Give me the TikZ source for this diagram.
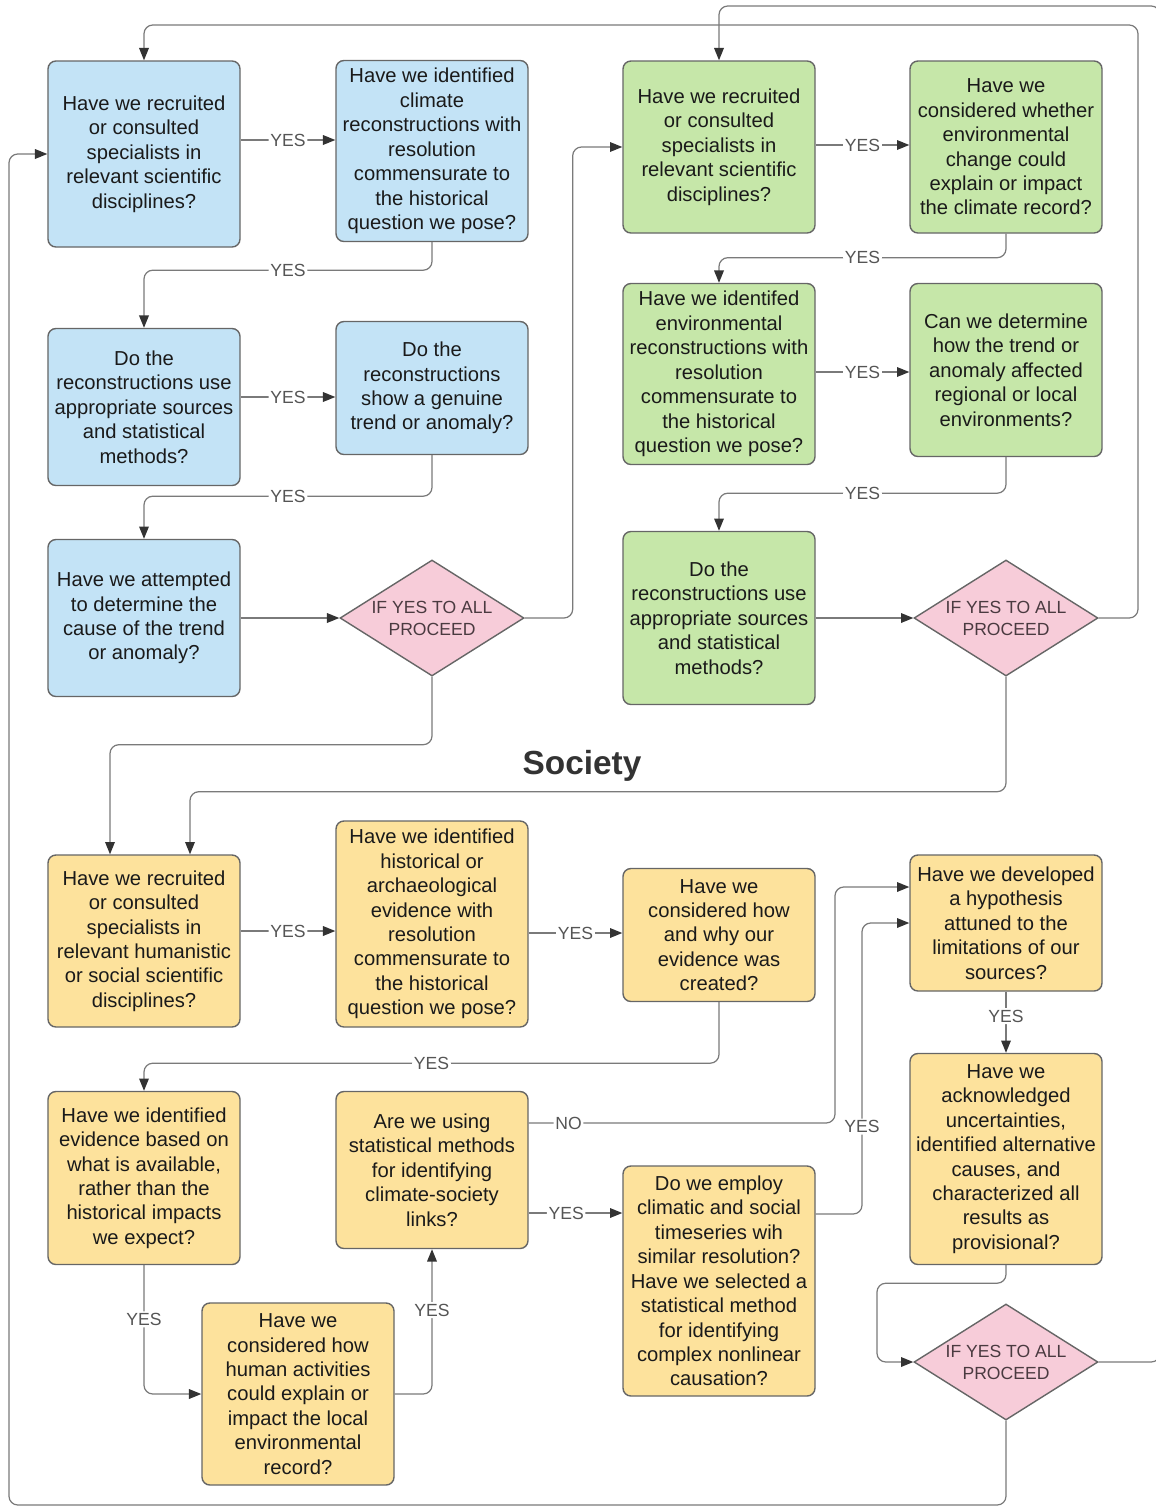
\documentclass[tikz,border=0pt]{standalone}
\usepackage{fontspec}
\setmainfont{Liberation Sans}
\usepackage{xcolor}
\usepackage{tikz}
\usetikzlibrary{shapes.geometric,arrows.meta}

\definecolor{climatefill}{HTML}{C3E3F6}
\definecolor{envfill}{HTML}{C6E7A9}
\definecolor{socfill}{HTML}{FDE29C}
\definecolor{proceedfill}{HTML}{F7CCD9}
\definecolor{boxline}{HTML}{666666}
\definecolor{connector}{HTML}{7A7A7A}
\definecolor{tipcolor}{HTML}{333333}
\definecolor{labelgray}{HTML}{555555}
\definecolor{boxtext}{HTML}{1A1A1A}
\definecolor{proceedtext}{HTML}{4A3A40}

\begin{document}
\begin{tikzpicture}[
        x=0.2mm, y=-0.2mm,
        question/.style={rectangle, rounded corners=4.5pt, draw=boxline, line width=0.8pt, minimum width=3.84cm, inner sep=2pt, align=center, text=boxtext, font=\fontsize{11.5}{13.9}\selectfont},
        climate/.style={question, fill=climatefill},
        environment/.style={question, fill=envfill},
        society/.style={question, fill=socfill},
        proceed/.style={diamond, draw=boxline, line width=0.8pt, fill=proceedfill, minimum width=3.68cm, minimum height=2.32cm, aspect=1.6, inner sep=0pt, align=center, text=proceedtext, font=\fontsize{10}{12.5}\selectfont},
        arrow/.style={-{Triangle[length=7pt, width=5.5pt, color=tipcolor]}, draw=connector, line width=0.7pt, rounded corners=5pt},
        answer/.style={fill=white, inner sep=1pt, text=labelgray, font=\fontsize{10}{12}\selectfont}
    ]

    \useasboundingbox (0,0) rectangle (1156,1507);

    % Climate questions
    \node[climate, minimum height=3.72cm] (c1) at (144,154) {Have we recruited\\or consulted\\specialists in\\relevant scientific\\disciplines?};
    \node[climate, minimum height=3.62cm] (c2) at (432,151) {Have we identified\\climate\\reconstructions with\\resolution\\commensurate to\\the historical\\question we pose?};
    \node[climate, minimum height=3.14cm] (c3) at (144,407) {Do the\\reconstructions use\\appropriate sources\\and statistical\\methods?};
    \node[climate, minimum height=2.66cm] (c4) at (432,388) {Do the\\reconstructions\\show a genuine\\trend or anomaly?};
    \node[climate, minimum height=3.14cm] (c5) at (144,618) {Have we attempted\\to determine the\\cause of the trend\\or anomaly?};
    \node[proceed] (p1) at (432,618) {IF YES TO ALL\\PROCEED};

    % Environment questions
    \node[environment, minimum height=3.44cm] (e1) at (719,147) {Have we recruited\\or consulted\\specialists in\\relevant scientific\\disciplines?};
    \node[environment, minimum height=3.44cm] (e2) at (1006,147) {Have we\\considered whether\\environmental\\change could\\explain or impact\\the climate record?};
    \node[environment, minimum height=3.62cm] (e3) at (719,374) {Have we identifed\\environmental\\reconstructions with\\resolution\\commensurate to\\the historical\\question we pose?};
    \node[environment, minimum height=3.46cm] (e4) at (1006,370) {Can we determine\\how the trend or\\anomaly affected\\regional or local\\environments?};
    \node[environment, minimum height=3.46cm] (e5) at (719,618) {Do the\\reconstructions use\\appropriate sources\\and statistical\\methods?};
    \node[proceed] (p2) at (1006,618) {IF YES TO ALL\\PROCEED};

    % Society questions
    \node[font=\fontsize{19}{22}\selectfont\bfseries, text=black!80] (title) at (582,766) {Society};
    \node[society, minimum height=3.44cm] (s1) at (144,941) {Have we recruited\\or consulted\\specialists in\\relevant humanistic\\or social scientific\\disciplines?};
    \node[society, minimum height=4.12cm] (s2) at (432,924) {Have we identified\\historical or\\archaeological\\evidence with\\resolution\\commensurate to\\the historical\\question we pose?};
    \node[society, minimum height=2.66cm] (s3) at (719,935) {Have we\\considered how\\and why our\\evidence was\\created?};
    \node[society, minimum height=2.72cm] (s4) at (1006,923) {Have we developed\\a hypothesis\\attuned to the\\limitations of our\\sources?};
    \node[society, minimum height=3.46cm] (s5) at (144,1178) {Have we identified\\evidence based on\\what is available,\\rather than the\\historical impacts\\we expect?};
    \node[society, minimum height=3.14cm] (s6) at (432,1170) {Are we using\\statistical methods\\for identifying\\climate-society\\links?};
    \node[society, minimum height=3.64cm] (s7) at (298,1394) {Have we\\considered how\\human activities\\could explain or\\impact the local\\environmental\\record?};
    \node[society, minimum height=4.6cm] (s8) at (719,1281) {Do we employ\\climatic and social\\timeseries wih\\similar resolution?\\Have we selected a\\statistical method\\for identifying\\complex nonlinear\\causation?};
    \node[society, minimum height=4.22cm] (s9) at (1006,1159) {Have we\\acknowledged\\uncertainties,\\identified alternative\\causes, and\\characterized all\\results as\\provisional?};
    \node[proceed] (p3) at (1006,1362) {IF YES TO ALL\\PROCEED};

    % Arrows: climate
    \draw[arrow] (c1.east |- 0,140) -- node[answer]{YES} (c2.west |- 0,140);
    \draw[arrow] (c2.south) -- ++(0,28) -| node[answer, pos=0.25]{YES} (c3.north);
    \draw[arrow] (c3.east |- 0,397) -- node[answer]{YES} (c4.west |- 0,397);
    \draw[arrow] (c4.south) -- ++(0,41) -| node[answer, pos=0.25]{YES} (c5.north);
    \draw[arrow] (c5) -- (p1);
    \draw[arrow] (p1.east) -- ++(48,0) |- (e1.west);
    \draw[arrow] (p1.south) -- ++(0,68) -| (s1.north -| 110,0);

    % Arrows: environment
    \draw[arrow] (e1.east |- 0,145) -- node[answer]{YES} (e2.west |- 0,145);
    \draw[arrow] (e2.south) -- ++(0,24) -| node[answer, pos=0.25]{YES} (e3.north);
    \draw[arrow] (e3.east |- 0,372) -- node[answer]{YES} (e4.west |- 0,372);
    \draw[arrow] (e4.south) -- ++(0,36) -| node[answer, pos=0.25]{YES} (e5.north);
    \draw[arrow] (e5) -- (p2);
    \draw[arrow] (p2.east) -| (1138,25) -| (c1.north);
    \draw[arrow] (p2.south) -- ++(0,115) -| (s1.north -| 190,0);

    % Arrows: society
    \draw[arrow] (s1.east |- 0,931) -- node[answer]{YES} (s2.west |- 0,931);
    \draw[arrow] (s2.east |- 0,933) -- node[answer]{YES} (s3.west |- 0,933);
    \draw[arrow] (s3.south) -- ++(0,61) -| node[answer, pos=0.25]{YES} (s5.north);
    \draw[arrow] (s5.south) |- node[answer, pos=0.21]{YES} (s7.west);
    \draw[arrow] (s7.east) -| node[answer, pos=0.79]{YES} (s6.south);
    \draw[arrow] (s6.east |- 0,1123) -- node[answer, pos=0.13]{NO} (835,1123) |- (s4.west |- 0,887);
    \draw[arrow] (s6.east |- 0,1213) -- node[answer, pos=0.4]{YES} (s8.west |- 0,1213);
    \draw[arrow] (s8.east |- 0,1214) -- (862,1214) |- node[answer, pos=0.15]{YES} (s4.west |- 0,923);
    \draw[arrow] (s4) -- node[answer, pos=0.4]{YES} (s9);
    \draw[arrow] (s9.south) -- ++(0,18) -| (877,1362) -- (p3.west);

    % Loops back to the start
    \draw[arrow] (p3.east) -| (1160,6) -| (e1.north);
    \draw[arrow] (p3.south) |- (9,1505) |- (c1.west);

\end{tikzpicture}
\end{document}
